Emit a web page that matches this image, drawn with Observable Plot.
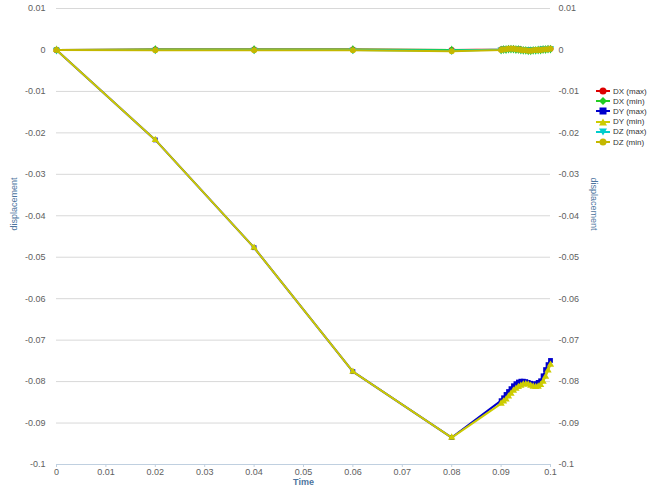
<!DOCTYPE html>
<html>
<head>
<meta charset="utf-8">
<script src="https://cdn.jsdelivr.net/npm/d3@7"></script>
<script src="https://cdn.jsdelivr.net/npm/@observablehq/plot@0.6"></script>
<style>
  body { margin: 0; background: white; }
  #wrap { position: relative; width: 665px; height: 500px; }
  #legend { position: absolute; left: 596px; top: 86px; font-family: "Liberation Sans", sans-serif; font-size: 8px; color: #333; }
  #legend .row { height: 10.2px; display: flex; align-items: center; white-space: nowrap; }
  #legend svg { margin-right: 3px; }
</style>
</head>
<body>
<div id="wrap"><div id="legend"></div></div>
<script>
const seriesNames = ["DX (max)", "DX (min)", "DY (max)", "DY (min)", "DZ (max)", "DZ (min)"];
const seriesColors = ["#dd0000", "#22cc22", "#0000cc", "#cccc00", "#00cccc", "#c4b800"];
const seriesSymbols = ["circle", "diamond", "square", "triangle", "triangle-down", "circle"];

const timesMain = [0, 0.02, 0.04, 0.06, 0.08];
const timesDense = [0.09, 0.0905, 0.091, 0.0915, 0.092, 0.0925, 0.093, 0.0935, 0.094, 0.0945, 0.095,
                    0.0955, 0.096, 0.0965, 0.097, 0.0975, 0.098, 0.0985, 0.099, 0.0995, 0.1];

const dxMax = [0, 0.0001, 0.0001, 0.0001, 0,
  0.0001, 0.0002, 0.0002, 0.0003, 0.0003, 0.0003, 0.0002, 0.0002, 0.0001, 0, 0,
  -0.0001, -0.0001, 0, 0, 0, 0.0001, 0.0002, 0.0002, 0.0003, 0.0003];
const dxMin = [0, 0.0001, 0.0001, 0.0001, 0,
  0, 0.0001, 0.0001, 0.0002, 0.0002, 0.0002, 0.0001, 0.0001, 0, -0.0001, -0.0001,
  -0.0002, -0.0002, -0.0001, -0.0001, 0, 0, 0.0001, 0.0001, 0.0002, 0.0002];
const dyMax = [0, -0.0217, -0.0477, -0.0776, -0.0935,
  -0.0846, -0.0839, -0.0831, -0.0824, -0.0817, -0.0810, -0.0805, -0.0801, -0.0799, -0.0799, -0.0800,
  -0.0802, -0.0804, -0.0806, -0.0805, -0.0802, -0.0798, -0.0786, -0.0771, -0.0759, -0.0749];
const dyMin = [0, -0.0217, -0.0477, -0.0776, -0.0935,
  -0.0853, -0.0848, -0.0843, -0.0836, -0.0829, -0.0822, -0.0817, -0.0813, -0.0810, -0.0807, -0.0806,
  -0.0807, -0.0810, -0.0812, -0.0813, -0.0812, -0.0808, -0.0800, -0.0788, -0.0773, -0.0759];
const dzMax = [0, 0, 0, 0, -0.0002,
  0.0001, 0.0002, 0.0003, 0.0004, 0.0004, 0.0004, 0.0003, 0.0002, 0.0001, 0.0001, 0.0001,
  0, 0, 0.0001, 0.0001, 0.0002, 0.0002, 0.0003, 0.0004, 0.0004, 0.0004];
const dzMin = [0, -0.0001, -0.0001, -0.0001, -0.0003,
  0, 0.0001, 0.0002, 0.0003, 0.0003, 0.0003, 0.0002, 0.0001, 0, -0.0001, -0.0001,
  -0.0002, -0.0002, -0.0001, 0, 0, 0, 0.0001, 0.0002, 0.0002, 0.0003];

const xTicks = [0, 0.01, 0.02, 0.03, 0.04, 0.05, 0.06, 0.07, 0.08, 0.09, 0.1];
const yTicks = [0.01, 0, -0.01, -0.02, -0.03, -0.04, -0.05, -0.06, -0.07, -0.08, -0.09, -0.1];

const seriesValues = [dxMax, dxMin, dyMax, dyMin, dzMax, dzMin];
const allTimes = timesMain.concat(timesDense);
const rows = seriesNames.map((s, i) => allTimes.map((t, j) => ({series: s, t, v: seriesValues[i][j]})));

const fmt = d => String(Math.round(d * 100) / 100);

const seriesMarks = [];
seriesNames.forEach((s, i) => {
  seriesMarks.push(Plot.line(rows[i], {x: "t", y: "v", stroke: seriesColors[i], strokeWidth: 2}));
  const sym = seriesSymbols[i];
  seriesMarks.push(Plot.dot(rows[i], {
    x: "t", y: "v", fill: seriesColors[i], r: sym === "circle" ? 3 : 2.7,
    symbol: sym === "triangle-down" ? "triangle" : sym,
    rotate: sym === "triangle-down" ? 180 : 0
  }));
});

const chart = Plot.plot({
  width: 665, height: 500,
  marginLeft: 56, marginRight: 115, marginTop: 8, marginBottom: 36,
  x: {domain: [0, 0.1]},
  y: {domain: [-0.1, 0.01]},
  style: {fontFamily: "Liberation Sans, sans-serif", fontSize: "9px", color: "#606060", background: "white"},
  marks: [
    Plot.gridY(yTicks.filter(v => v > -0.0999), {stroke: "#d8d8d8", strokeOpacity: 1}),
    Plot.ruleY([-0.1], {stroke: "#c0d0e0"}),
    Plot.axisX(xTicks, {tickSize: 3, tickPadding: 1, stroke: "#c0d0e0", fill: "#606060", tickFormat: fmt, label: null}),
    Plot.axisY(yTicks, {anchor: "left", tickSize: 0, tickPadding: 11, tickFormat: fmt, label: null, fill: "#606060"}),
    Plot.axisY(yTicks, {anchor: "right", tickSize: 0, tickPadding: 8, tickFormat: fmt, label: null, fill: "#606060"}),
    ...seriesMarks,
    Plot.text(["Time"], {text: d => d, frameAnchor: "bottom", dy: 18, lineAnchor: "middle", fill: "#4d759e", fontWeight: "bold"}),
    Plot.text(["displacement"], {text: d => d, frameAnchor: "left", rotate: -90, dx: -42, dy: -6, lineAnchor: "middle", fill: "#4d759e"}),
    Plot.text(["displacement"], {text: d => d, frameAnchor: "right", rotate: 90, dx: 43, dy: -6, lineAnchor: "middle", fill: "#4d759e"})
  ]
});
document.getElementById("wrap").prepend(chart);

const symbolSvg = {
  "circle": c => `<circle cx="7" cy="5" r="3.5" fill="${c}"/>`,
  "diamond": c => `<path d="M7 1L11 5L7 9L3 5Z" fill="${c}"/>`,
  "square": c => `<rect x="3.5" y="1.5" width="7" height="7" fill="${c}"/>`,
  "triangle": c => `<path d="M7 1.5L11 8.5L3 8.5Z" fill="${c}"/>`,
  "triangle-down": c => `<path d="M3 1.5L11 1.5L7 8.5Z" fill="${c}"/>`
};
const legend = document.getElementById("legend");
seriesNames.forEach((s, i) => {
  const row = document.createElement("div");
  row.className = "row";
  row.innerHTML = `<svg width="14" height="10"><line x1="0" x2="14" y1="5" y2="5" stroke="${seriesColors[i]}" stroke-width="2"/>${symbolSvg[seriesSymbols[i]](seriesColors[i])}</svg><span>${s}</span>`;
  legend.appendChild(row);
});
</script>
</body>
</html>
